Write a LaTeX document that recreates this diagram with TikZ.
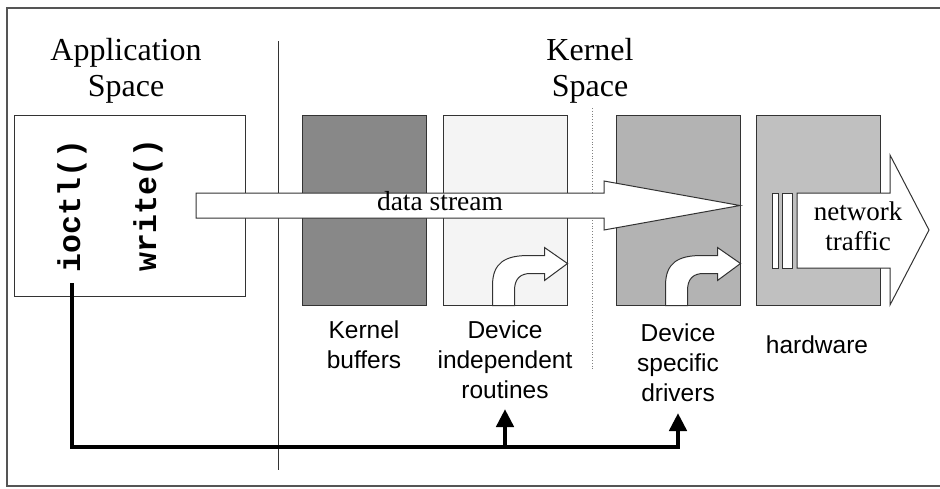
\documentclass[tikz,border=0pt]{standalone}
\usepackage{fontspec}
\setmainfont{Liberation Serif}
\setsansfont{Liberation Sans}
\setmonofont{Liberation Mono}
\usetikzlibrary{arrows.meta}
\definecolor{boxline}{HTML}{333333}
\definecolor{framegray}{HTML}{555555}
\definecolor{kbuf}{HTML}{888888}
\definecolor{dind}{HTML}{F4F4F4}
\definecolor{dspec}{HTML}{B3B3B3}
\definecolor{hwfill}{HTML}{C0C0C0}
\begin{document}
\begin{tikzpicture}[x=1pt,y=-1pt,
  frame/.style={draw=framegray, line width=1.5pt},
  panel/.style={draw=boxline, line width=1pt, minimum width=124pt, minimum height=190pt, inner sep=0pt},
  heading/.style={font=\fontsize{32}{36}\selectfont, align=center, inner sep=0pt, anchor=base},
  label/.style={font=\sffamily\fontsize{24.5}{30}\selectfont, align=center, inner sep=0pt, anchor=base},
  call/.style={font=\ttfamily\bfseries\fontsize{31.5}{31.5}\selectfont, rotate=90, inner sep=2pt},
  flow/.style={draw=boxline, fill=white, line width=1pt, line join=miter},
  bus/.style={line width=4.5pt, draw=black},
  bushead/.style={-{Triangle[length=18pt,width=17pt]}},
  turn/.pic={
    \draw[flow] (-75,0) -- (-75,-20) .. controls (-75,-43) and (-62,-50) .. (-39,-50)
      -- (-23,-50) -- (-23,-58) -- (0,-42) -- (-23,-25) -- (-23,-32) -- (-37,-32)
      .. controls (-47,-32) and (-53,-27) .. (-53,-15) -- (-53,0) -- cycle;
  }
]
\useasboundingbox (0,0) rectangle (940,488);
% outer frame
\draw[frame] (940,8) -- (7,8) -- (7,486) -- (940,486);
% dividers
\coordinate (divtop) at (278,41);
\coordinate (divbot) at (278,470);
\draw[draw=boxline, line width=1pt] (divtop) -- (divbot);
\coordinate (dottop) at (592,108);
\coordinate (dotbot) at (592,370);
\draw[draw=gray, line width=0.8pt, dotted] (dottop) -- (dotbot);
% headings (anchor base = last line's baseline)
\node[heading] (apphead) at (126,96) {Application\\Space};
\node[heading] (kernhead) at (590,96) {Kernel\\Space};
% application box
\node[draw=boxline, line width=1pt, minimum width=231pt, minimum height=181pt, inner sep=0pt] (app) at (129.5,205.5) {};
\node[call] (ioctl) at (72,206) {ioctl()};
\node[call] (write) at (148,205) {write()};
% kernel boxes
\node[panel, fill=kbuf] (kbuf) at (364,210) {};
\node[panel, fill=dind] (dind) at (505,210) {};
\node[panel, fill=dspec] (dspec) at (678,210) {};
\node[panel, fill=hwfill] (hw) at (818,210) {};
% bent arrows
\pic at (dind.south east) {turn};
\pic at (dspec.south east) {turn};
% data stream arrow
\draw[flow] (196,193) -- (604,193) -- (604,181) -- (740,205.5) -- (604,230) -- (604,218) -- (196,218) -- cycle;
\node[font=\fontsize{27.5}{30}\selectfont, inner sep=0pt, anchor=base] (ds) at (440,210) {data stream};
% network traffic arrow
\draw[flow] (797,193) -- (890,193) -- (890,155) -- (929,230) -- (890,305) -- (890,268) -- (797,268) -- cycle;
\draw[flow] (772,193) rectangle (778,268);
\draw[flow] (782,193) rectangle (792,268);
\node[heading, font=\fontsize{27}{30}\selectfont] (net) at (858,250) {network\\traffic};
% labels
\node[label] (lkbuf) at (364,368) {Kernel\\buffers};
\node[label] (ldind) at (505,398) {Device\\independent\\routines};
\node[label] (ldspec) at (678,401) {Device\\specific\\drivers};
\node[label] (lhw) at (817,353) {hardware};
% control bus
\coordinate (c0) at (72,283);
\coordinate (c1) at (505,447);
\coordinate (c2) at (678,447);
\coordinate (t1) at (505,409);
\coordinate (t2) at (678,413);
\draw[bus, bushead] (c0) |- (c2) -- (t2);
\draw[bus, bushead] (c1) -- (t1);
\end{tikzpicture}
\end{document}
